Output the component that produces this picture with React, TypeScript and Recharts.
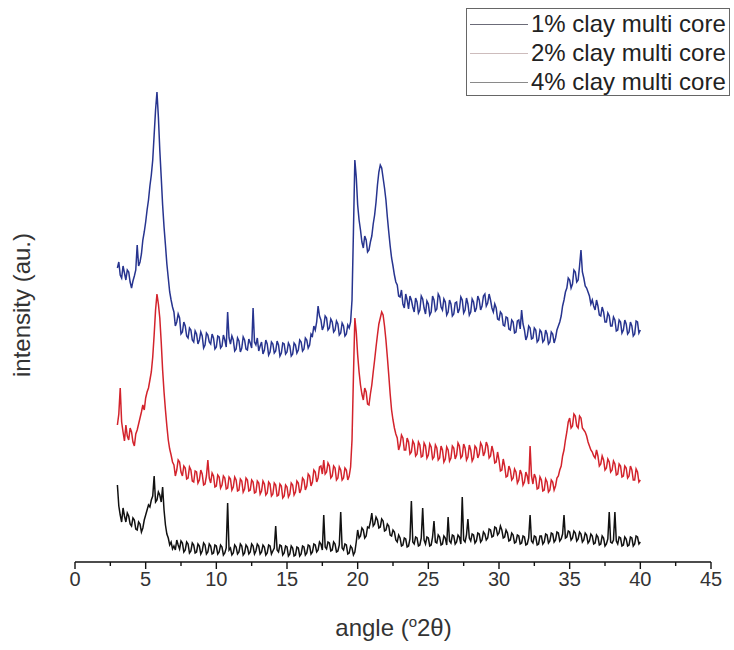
import React from "react";
import { LineChart, Line, XAxis, YAxis } from "recharts";

// 2θ angles (degrees), one row per 2°
const angles = [
  3.0, 3.1, 3.2, 3.3, 3.4, 3.5, 3.6, 3.7, 3.8, 3.9, 4.0, 4.1, 4.2, 4.3, 4.4, 4.5, 4.6, 4.7, 4.8, 4.9,
  5.0, 5.1, 5.2, 5.3, 5.4, 5.5, 5.6, 5.7, 5.8, 5.9, 6.0, 6.1, 6.2, 6.3, 6.4, 6.5, 6.6, 6.7, 6.8, 6.9,
  7.0, 7.1, 7.2, 7.3, 7.4, 7.5, 7.6, 7.7, 7.8, 7.9, 8.0, 8.1, 8.2, 8.3, 8.4, 8.5, 8.6, 8.7, 8.8, 8.9,
  9.0, 9.1, 9.2, 9.3, 9.4, 9.5, 9.6, 9.7, 9.8, 9.9, 10.0, 10.1, 10.2, 10.3, 10.4, 10.5, 10.6, 10.7, 10.8, 10.9,
  11.0, 11.1, 11.2, 11.3, 11.4, 11.5, 11.6, 11.7, 11.8, 11.9, 12.0, 12.1, 12.2, 12.3, 12.4, 12.5, 12.6, 12.7, 12.8, 12.9,
  13.0, 13.1, 13.2, 13.3, 13.4, 13.5, 13.6, 13.7, 13.8, 13.9, 14.0, 14.1, 14.2, 14.3, 14.4, 14.5, 14.6, 14.7, 14.8, 14.9,
  15.0, 15.1, 15.2, 15.3, 15.4, 15.5, 15.6, 15.7, 15.8, 15.9, 16.0, 16.1, 16.2, 16.3, 16.4, 16.5, 16.6, 16.7, 16.8, 16.9,
  17.0, 17.1, 17.2, 17.3, 17.4, 17.5, 17.6, 17.7, 17.8, 17.9, 18.0, 18.1, 18.2, 18.3, 18.4, 18.5, 18.6, 18.7, 18.8, 18.9,
  19.0, 19.1, 19.2, 19.3, 19.4, 19.5, 19.6, 19.7, 19.8, 19.9, 20.0, 20.1, 20.2, 20.3, 20.4, 20.5, 20.6, 20.7, 20.8, 20.9,
  21.0, 21.1, 21.2, 21.3, 21.4, 21.5, 21.6, 21.7, 21.8, 21.9, 22.0, 22.1, 22.2, 22.3, 22.4, 22.5, 22.6, 22.7, 22.8, 22.9,
  23.0, 23.1, 23.2, 23.3, 23.4, 23.5, 23.6, 23.7, 23.8, 23.9, 24.0, 24.1, 24.2, 24.3, 24.4, 24.5, 24.6, 24.7, 24.8, 24.9,
  25.0, 25.1, 25.2, 25.3, 25.4, 25.5, 25.6, 25.7, 25.8, 25.9, 26.0, 26.1, 26.2, 26.3, 26.4, 26.5, 26.6, 26.7, 26.8, 26.9,
  27.0, 27.1, 27.2, 27.3, 27.4, 27.5, 27.6, 27.7, 27.8, 27.9, 28.0, 28.1, 28.2, 28.3, 28.4, 28.5, 28.6, 28.7, 28.8, 28.9,
  29.0, 29.1, 29.2, 29.3, 29.4, 29.5, 29.6, 29.7, 29.8, 29.9, 30.0, 30.1, 30.2, 30.3, 30.4, 30.5, 30.6, 30.7, 30.8, 30.9,
  31.0, 31.1, 31.2, 31.3, 31.4, 31.5, 31.6, 31.7, 31.8, 31.9, 32.0, 32.1, 32.2, 32.3, 32.4, 32.5, 32.6, 32.7, 32.8, 32.9,
  33.0, 33.1, 33.2, 33.3, 33.4, 33.5, 33.6, 33.7, 33.8, 33.9, 34.0, 34.1, 34.2, 34.3, 34.4, 34.5, 34.6, 34.7, 34.8, 34.9,
  35.0, 35.1, 35.2, 35.3, 35.4, 35.5, 35.6, 35.7, 35.8, 35.9, 36.0, 36.1, 36.2, 36.3, 36.4, 36.5, 36.6, 36.7, 36.8, 36.9,
  37.0, 37.1, 37.2, 37.3, 37.4, 37.5, 37.6, 37.7, 37.8, 37.9, 38.0, 38.1, 38.2, 38.3, 38.4, 38.5, 38.6, 38.7, 38.8, 38.9,
  39.0, 39.1, 39.2, 39.3, 39.4, 39.5, 39.6, 39.7, 39.8, 39.9, 40.0,
];

// 1% clay multi core (blue, offset trace)
const clay1 = [
  294, 300, 287, 284, 296, 289, 282, 292, 290, 280, 274, 281, 286, 292, 317, 296, 300, 308, 322, 330,
  340, 352, 362, 376, 387, 402, 427, 452, 470, 445, 412, 385, 357, 335, 317, 298, 284, 270, 262, 255,
  250, 236, 240, 248, 244, 228, 230, 240, 236, 226, 224, 234, 232, 222, 220, 231, 228, 218, 222, 230,
  226, 214, 217, 229, 227, 220, 218, 228, 224, 213, 215, 226, 225, 214, 216, 227, 222, 215, 250, 224,
  218, 226, 222, 211, 213, 224, 221, 210, 214, 225, 222, 213, 212, 223, 219, 214, 254, 220, 217, 224,
  211, 216, 220, 208, 212, 222, 218, 207, 210, 220, 218, 209, 211, 221, 217, 206, 209, 219, 218, 208,
  210, 219, 216, 206, 208, 219, 217, 209, 212, 222, 220, 211, 213, 224, 222, 214, 217, 228, 226, 236,
  232, 240, 256, 246, 242, 232, 236, 246, 244, 232, 234, 243, 240, 230, 232, 241, 238, 227, 229, 239,
  236, 226, 228, 237, 234, 240, 262, 330, 402, 385, 357, 342, 332, 320, 314, 326, 322, 310, 312, 320,
  326, 338, 347, 360, 377, 390, 397, 394, 384, 374, 362, 345, 330, 316, 304, 296, 287, 280, 277, 266,
  265, 272, 258, 254, 268, 262, 253, 266, 262, 255, 250, 264, 260, 249, 252, 266, 263, 254, 248, 261,
  258, 247, 250, 266, 262, 251, 253, 268, 265, 255, 252, 263, 260, 247, 250, 262, 258, 246, 248, 259,
  260, 249, 253, 265, 262, 249, 252, 264, 258, 247, 250, 263, 260, 250, 254, 266, 262, 252, 256, 266,
  268, 256, 259, 268, 262, 254, 250, 258, 254, 243, 242, 250, 248, 237, 236, 245, 244, 233, 232, 242,
  240, 229, 230, 241, 242, 233, 252, 238, 232, 222, 226, 236, 234, 223, 224, 234, 232, 220, 222, 232,
  230, 220, 222, 232, 228, 218, 220, 230, 228, 219, 224, 232, 236, 240, 246, 256, 262, 270, 274, 284,
  282, 274, 278, 292, 290, 280, 282, 296, 312, 290, 284, 276, 274, 270, 266, 258, 262, 256, 252, 262,
  256, 247, 246, 255, 250, 240, 240, 249, 246, 236, 236, 245, 242, 231, 232, 242, 240, 229, 232, 242,
  238, 228, 230, 240, 236, 226, 228, 241, 240, 229, 232,
];

// 2% clay multi core (red, offset trace)
const clay2 = [
  137, 148, 174, 140, 130, 121, 137, 126, 122, 134, 130, 120, 116, 128, 132, 138, 144, 150, 157, 152,
  164, 170, 174, 182, 190, 205, 227, 252, 268, 258, 244, 220, 192, 170, 152, 136, 122, 113, 107, 100,
  97, 86, 92, 102, 100, 90, 86, 96, 94, 83, 84, 95, 92, 81, 80, 91, 90, 79, 82, 92,
  88, 77, 78, 86, 102, 84, 79, 89, 86, 75, 76, 87, 85, 74, 77, 86, 84, 73, 74, 85,
  83, 72, 75, 85, 82, 71, 72, 83, 81, 70, 73, 84, 82, 71, 72, 82, 80, 69, 70, 81,
  79, 68, 71, 81, 78, 67, 69, 80, 78, 66, 68, 79, 77, 66, 67, 78, 76, 64, 66, 77,
  75, 65, 68, 79, 77, 67, 70, 81, 79, 69, 73, 84, 82, 72, 76, 88, 86, 76, 80, 92,
  90, 80, 84, 95, 96, 88, 102, 88, 90, 99, 96, 84, 86, 96, 94, 82, 84, 95, 92, 82,
  84, 94, 92, 82, 86, 95, 122, 185, 244, 230, 207, 190, 177, 168, 162, 174, 170, 158, 157, 168,
  177, 190, 202, 215, 227, 238, 244, 250, 247, 236, 222, 205, 187, 168, 152, 142, 134, 128, 124, 112,
  117, 127, 124, 112, 112, 124, 120, 108, 110, 121, 118, 106, 108, 120, 117, 105, 106, 119, 116, 104,
  107, 118, 115, 103, 105, 117, 114, 102, 104, 116, 112, 100, 103, 115, 112, 101, 104, 116, 114, 103,
  107, 119, 116, 104, 106, 118, 114, 102, 105, 117, 112, 101, 104, 116, 114, 104, 108, 119, 116, 106,
  110, 120, 116, 104, 106, 116, 110, 99, 100, 110, 102, 91, 92, 103, 96, 85, 86, 96, 92, 82,
  84, 93, 90, 79, 82, 92, 88, 77, 80, 90, 86, 78, 116, 86, 78, 88, 84, 73, 74, 85,
  82, 71, 72, 83, 80, 70, 72, 82, 80, 72, 76, 84, 86, 92, 96, 106, 112, 122, 130, 140,
  144, 134, 136, 148, 146, 136, 134, 146, 144, 134, 132, 130, 126, 120, 116, 112, 110, 106, 104, 112,
  106, 96, 98, 106, 102, 92, 94, 103, 100, 90, 92, 101, 98, 87, 88, 98, 96, 85, 86, 96,
  94, 84, 86, 96, 92, 82, 82, 93, 90, 80, 82,
];

// 4% clay multi core (black, base trace)
const clay4 = [
  77, 56, 47, 40, 54, 46, 40, 49, 46, 38, 36, 44, 42, 33, 32, 40, 38, 30, 34, 42,
  47, 52, 57, 55, 62, 66, 86, 60, 62, 70, 67, 60, 75, 52, 37, 28, 24, 17, 20, 13,
  16, 12, 22, 17, 13, 21, 19, 10, 12, 20, 18, 9, 11, 19, 17, 9, 10, 18, 16, 8,
  11, 19, 17, 8, 10, 18, 16, 8, 9, 17, 16, 8, 10, 17, 15, 7, 9, 14, 59, 12,
  14, 7, 9, 17, 15, 8, 10, 18, 16, 7, 9, 17, 15, 8, 10, 18, 16, 8, 11, 18,
  16, 8, 10, 17, 15, 7, 9, 17, 16, 8, 11, 14, 36, 12, 10, 17, 16, 7, 9, 16,
  15, 6, 8, 16, 14, 6, 7, 15, 14, 6, 8, 16, 15, 7, 9, 17, 16, 8, 10, 18,
  17, 10, 12, 20, 18, 12, 47, 15, 13, 20, 19, 11, 12, 20, 18, 10, 11, 17, 50, 14,
  12, 18, 17, 8, 9, 16, 14, 7, 10, 20, 32, 24, 26, 34, 32, 24, 26, 35, 34, 40,
  49, 36, 38, 45, 42, 34, 35, 43, 41, 31, 32, 38, 36, 27, 26, 32, 30, 22, 20, 27,
  24, 16, 17, 24, 23, 15, 16, 23, 61, 20, 18, 25, 24, 16, 17, 24, 54, 22, 18, 25,
  24, 16, 17, 25, 41, 20, 19, 27, 25, 17, 18, 26, 24, 17, 45, 21, 19, 27, 26, 18,
  20, 27, 25, 18, 65, 22, 20, 27, 43, 24, 21, 28, 27, 19, 21, 29, 28, 20, 22, 30,
  28, 22, 24, 33, 32, 25, 26, 35, 34, 27, 29, 36, 32, 24, 25, 32, 29, 21, 22, 29,
  27, 19, 20, 27, 26, 18, 19, 26, 25, 17, 18, 24, 47, 21, 19, 26, 25, 17, 18, 26,
  26, 18, 20, 28, 27, 19, 21, 29, 28, 20, 22, 30, 29, 21, 23, 28, 47, 24, 25, 31,
  30, 22, 24, 31, 29, 21, 23, 30, 28, 20, 22, 29, 27, 19, 21, 28, 26, 18, 19, 27,
  25, 17, 18, 26, 24, 16, 18, 23, 50, 20, 19, 22, 50, 21, 18, 25, 24, 16, 17, 25,
  23, 16, 17, 25, 24, 16, 18, 26, 25, 18, 20,
];

const xTicks = [0, 2.5, 5, 7.5, 10, 12.5, 15, 17.5, 20, 22.5, 25, 27.5, 30, 32.5, 35, 37.5, 40, 42.5, 45];
const seriesNames = ["1% clay multi core", "2% clay multi core", "4% clay multi core"];
const seriesColors = ["#27348f", "#d3232c", "#111111"];
const legendColors = ["#6b6b78", "#cdbcbc", "#8a8a8a"];

const data = angles.map((a, i) => ({ angle: a, c1: clay1[i], c2: clay2[i], c4: clay4[i] }));

const FONT = "'Liberation Sans', Arial, sans-serif";

const AngleTick = (props: any) => {
  const { x, y, payload } = props;
  const v = payload.value as number;
  const major = v % 5 === 0;
  return (
    <g>
      <line x1={x} x2={x} y1={y} y2={y + (major ? 7 : 4)} stroke="#111" strokeWidth={1.4} />
      {major && (
        <text x={x} y={y + 24} textAnchor="middle" fontSize={20} fontFamily={FONT} fill="#333">
          {v}
        </text>
      )}
    </g>
  );
};

export default function App() {
  return (
    <div style={{ position: "absolute", left: 0, top: 0, width: 734, height: 650, background: "#fff", fontFamily: FONT }}>
      <LineChart width={734} height={650} data={data} margin={{ top: 45, right: 23, bottom: 58, left: 75 }}>
        <XAxis
          type="number"
          dataKey="angle"
          domain={[0, 45]}
          ticks={xTicks}
          interval={0}
          tickLine={false}
          tickSize={0}
          tickMargin={0}
          tick={<AngleTick />}
          height={30}
          axisLine={{ stroke: "#111", strokeWidth: 1.6 }}
        />
        <YAxis
          type="number"
          domain={[0, 517]}
          width={0}
          tick={false}
          tickLine={false}
          axisLine={{ stroke: "#111", strokeWidth: 1.6 }}
        />
        <Line type="linear" dataKey="c4" stroke={seriesColors[2]} strokeWidth={1.5} dot={false} isAnimationActive={false} />
        <Line type="linear" dataKey="c2" stroke={seriesColors[1]} strokeWidth={1.5} dot={false} isAnimationActive={false} />
        <Line type="linear" dataKey="c1" stroke={seriesColors[0]} strokeWidth={1.5} dot={false} isAnimationActive={false} />
      </LineChart>

      {/* x axis title */}
      <div style={{ position: "absolute", left: 0, width: 787, top: 614, textAlign: "center", fontSize: 24, color: "#333", whiteSpace: "nowrap" }}>
        angle (<span style={{ fontSize: 15, position: "relative", top: -9 }}>o</span>2θ)
      </div>

      {/* y axis title */}
      <div
        style={{
          position: "absolute",
          left: 22,
          top: 305,
          transform: "translate(-50%, -50%) rotate(-90deg)",
          fontSize: 24,
          color: "#333",
          whiteSpace: "nowrap",
        }}
      >
        intensity (au.)
      </div>

      {/* legend */}
      <div
        style={{
          position: "absolute",
          left: 466,
          top: 8,
          width: 264,
          height: 88,
          border: "1px solid #666",
          background: "#fff",
          boxSizing: "border-box",
        }}
      >
        {seriesNames.map((n, i) => (
          <div key={n} style={{ position: "absolute", left: 0, top: 1 + i * 29, height: 28, display: "flex", alignItems: "center" }}>
            <div style={{ width: 58, height: 0, borderTop: `1px solid ${legendColors[i]}`, marginLeft: 3 }} />
            <span style={{ fontSize: 24, color: "#222", marginLeft: 3, lineHeight: "28px" }}>{n}</span>
          </div>
        ))}
      </div>
    </div>
  );
}
